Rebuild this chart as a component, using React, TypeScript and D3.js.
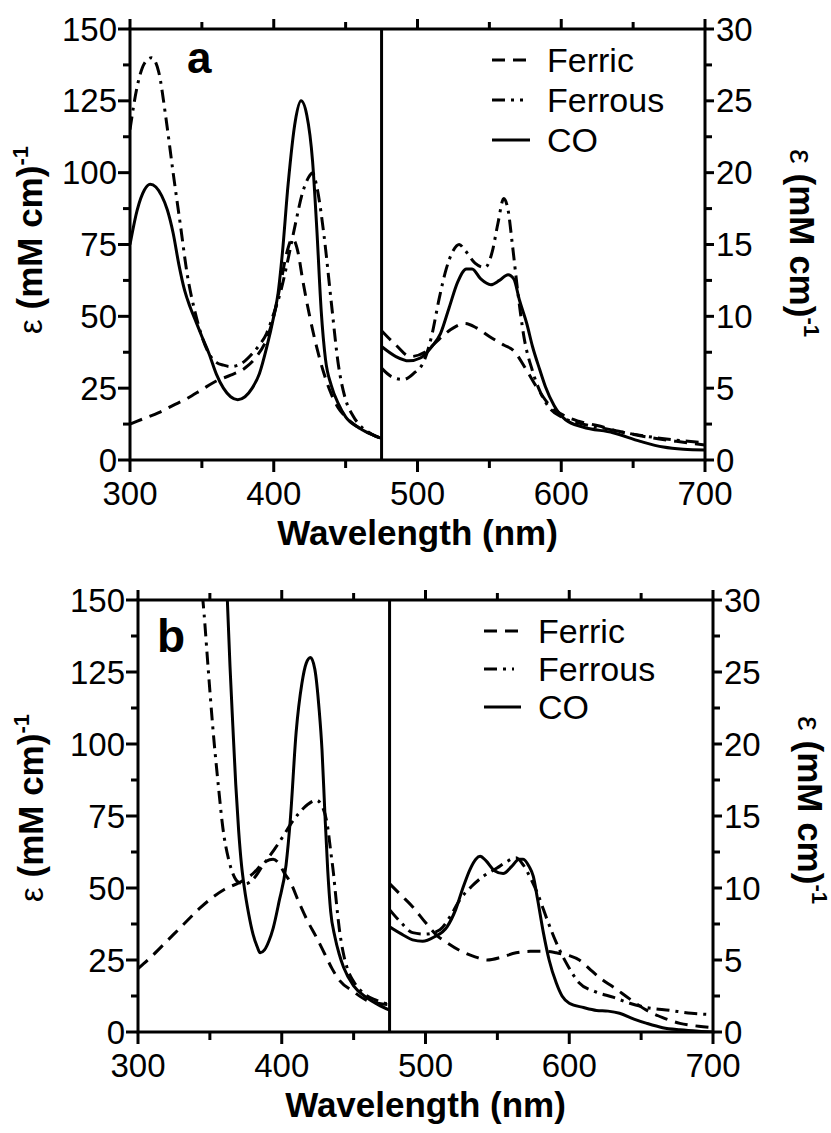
import React from 'react';
import * as d3 from 'd3';

type Pt = [number, number];

// ---- panel a : Soret region (left axis, 0-150) ----
const ferricA_uv: Pt[] = [[300,12.5],[310,14.5],[320,16.5],[330,19],[340,21.5],[350,24.5],[360,27.5],[370,29.5],[380,32],[388,36],[395,42],[400,50],[405,62],[409,72],[413,77],[417,72],[420,63],[425,50],[430,39],[435,30],[440,23],[445,18],[450,15],[460,11],[470,8.5],[475,7.5]];
const ferrousA_uv: Pt[] = [[300,115],[305,130],[310,138],[315,140],[320,135],[325,119],[330,100],[335,82],[340,64],[345,52],[350,43],[355,37],[360,34],[365,33],[370,32.5],[375,33],[380,34.5],[385,37],[390,40],[395,44],[400,51],[405,59],[410,70],[415,82],[420,93],[425,99],[427,100],[430,95],[435,78],[440,55],[445,33],[450,21],[455,15.5],[460,12],[465,10],[470,8.5],[475,7.5]];
const coA_uv: Pt[] = [[300,75],[305,87],[310,94],[314,96],[318,95],[322,92],[326,87],[330,79],[334,68],[338,59],[342,53],[346,48],[350,43],[355,37],[360,30],[365,25],[370,22],[375,21],[380,22],[385,25],[390,30],[395,39],[400,50],[403,58],[406,72],[410,96],[415,118],[419,125],[423,120],[427,104],[430,80],[433,52],[436,35],[440,26],[445,19.5],[450,15],[460,11],[470,8.5],[475,7.5]];

// ---- panel a : visible region (right axis, 0-30) ----
const ferricA_vis: Pt[] = [[475,9],[485,8],[495,7.2],[505,7.5],[515,8.4],[525,9.2],[533,9.5],[541,9.2],[550,8.6],[560,8],[567,7.6],[575,6.4],[584,4.9],[592,3.8],[600,3.2],[612,2.7],[625,2.4],[640,2],[660,1.6],[680,1.3],[700,1.05]];
const ferrousA_vis: Pt[] = [[475,6.4],[482,5.8],[490,5.6],[497,6],[505,7],[510,8.7],[515,11.2],[520,13.3],[525,14.6],[529,15],[533,14.6],[540,13.7],[547,13.4],[552,14.5],[556,16.5],[560,18.2],[563,17.4],[566,15],[570,11.5],[574,8.6],[580,6.2],[586,4.6],[592,3.6],[600,3],[615,2.5],[630,2.2],[650,1.8],[670,1.5],[700,1.2]];
const coA_vis: Pt[] = [[475,7.9],[485,7.2],[494,6.9],[502,7.1],[510,7.9],[516,8.8],[522,10.6],[528,12.4],[534,13.3],[538,13.3],[544,12.6],[551,12.2],[557,12.5],[563,12.9],[567,12.6],[571,11.1],[576,9.5],[580,7.9],[585,6.3],[589,5.1],[595,3.8],[603,2.8],[615,2.3],[636,1.9],[655,1.3],[671,0.9],[685,0.75],[700,0.7]];

// ---- panel b : Soret region ----
const ferricB_uv: Pt[] = [[300,22],[310,26.5],[320,31.5],[330,36.5],[343,43],[350,46],[360,49.5],[371,52],[380,55],[388,59],[394,60],[398,58.5],[402,55],[406,52],[412,45],[418,38.5],[424,33],[430,27],[435,22],[440,18],[450,14],[459,11],[467,10],[475,9.5]];
const ferrousB_uv: Pt[] = [[338,200],[343,162],[346,145],[349,125],[352,106],[356,85],[359,71],[363,60],[366,55],[370,52],[375,51.5],[380,53],[387,58],[395,63.5],[401,68],[406,72],[412,76],[418,79],[424,80.5],[428,78.5],[432,71],[434,63],[436,55],[438,45],[440,36],[443,27],[446,21.5],[450,17.5],[458,13],[466,11],[475,9.5]];
const coB_uv: Pt[] = [[356,220],[360,178],[362,152],[364,127],[366,106],[368,86],[370,70],[372,58],[374,50],[377,41],[380,34],[383,29.5],[385,27.5],[388,28.5],[391,31.5],[394,36],[398,45],[403,58],[406,74],[410,104],[414,121],[417,128],[420,130],[423,126],[426,112],[428,98],[430,76],[432,56],[434,42],[437,33],[440,27],[443,22.5],[450,16],[459,12],[467,9.5],[475,7.6]];

// ---- panel b : visible region ----
const ferricB_vis: Pt[] = [[475,10.3],[483,9.5],[491,8.7],[500,7.6],[508,6.7],[515,6.2],[525,5.6],[535,5.2],[543,5],[553,5.2],[563,5.5],[573,5.6],[583,5.6],[591,5.5],[600,5.3],[607,5],[615,4.3],[622,3.7],[631,3.1],[642,2.3],[654,1.5],[665,1],[677,0.6],[690,0.4],[700,0.3]];
const ferrousB_vis: Pt[] = [[475,8.5],[483,7.6],[491,6.9],[500,6.8],[510,7.1],[517,8],[524,9.2],[532,10.1],[540,10.8],[550,11.4],[556,11.8],[563,12.1],[568,11.6],[573,10.7],[578,9.6],[585,7.7],[591,6.2],[599,4.6],[607,3.4],[618,2.8],[631,2.4],[642,2],[654,1.7],[670,1.5],[685,1.3],[700,1.2]];
const coB_vis: Pt[] = [[475,7.3],[485,6.7],[491,6.4],[498,6.3],[506,6.6],[515,7.3],[521,8.5],[526,10],[531,11.3],[535,12],[538,12.2],[542,11.9],[548,11.2],[554,11],[560,11.5],[565,12],[568,12],[572,11.5],[575,10.8],[578,9.2],[582,6.9],[586,5],[591,3.4],[595,2.5],[600,2],[610,1.7],[619,1.5],[627,1.45],[635,1.3],[645,0.9],[654,0.6],[665,0.3],[677,0.15],[690,0.05],[700,0]];

const xTicks = [300, 350, 400, 450, 500, 550, 600, 650, 700];
const leftTicks = [0, 12.5, 25, 37.5, 50, 62.5, 75, 87.5, 100, 112.5, 125, 137.5, 150];
const rightTicks = [0, 2.5, 5, 7.5, 10, 12.5, 15, 17.5, 20, 22.5, 25, 27.5, 30];
const seriesNames = ['Ferric', 'Ferrous', 'CO'];
const dashes: Record<string, string | undefined> = { Ferric: '13,8', Ferrous: '13,6,3,6', CO: undefined };

const FONT = '"Liberation Sans", Arial, Helvetica, sans-serif';

const panels = [
  {
    id: 'a', left: 130, right: 705, top: 29, bottom: 460,
    uv: { Ferric: ferricA_uv, Ferrous: ferrousA_uv, CO: coA_uv },
    vis: { Ferric: ferricA_vis, Ferrous: ferrousA_vis, CO: coA_vis },
    tag: { x: 187, y: 73, size: 44 },
    legend: { x1: 492, x2: 530, tx: 547, y0: 60, dy: 40 },
    ylab: { lx: 42, ly: 240, rx: 790, ry: 243 },
  },
  {
    id: 'b', left: 138, right: 713, top: 600, bottom: 1032,
    uv: { Ferric: ferricB_uv, Ferrous: ferrousB_uv, CO: coB_uv },
    vis: { Ferric: ferricB_vis, Ferrous: ferrousB_vis, CO: coB_vis },
    tag: { x: 157, y: 652, size: 46 },
    legend: { x1: 484, x2: 521, tx: 538, y0: 631, dy: 38 },
    ylab: { lx: 43, ly: 808, rx: 798, ry: 810 },
  },
];

function YLabel({ x, y, rot }: { x: number; y: number; rot: number }) {
  return (
    <text transform={`translate(${x},${y}) rotate(${rot})`} textAnchor="middle" fontFamily={FONT}>
      <tspan fontSize={33}>ε</tspan>
      <tspan fontSize={35} fontWeight="bold"> (mM cm)</tspan>
      <tspan fontSize={22} fontWeight="bold" dy={-14}>-1</tspan>
    </text>
  );
}

function Panel({ p }: { p: typeof panels[number] }) {
  const x = d3.scaleLinear().domain([300, 700]).range([p.left, p.right]);
  const yL = d3.scaleLinear().domain([0, 150]).range([p.bottom, p.top]);
  const yR = d3.scaleLinear().domain([0, 30]).range([p.bottom, p.top]);
  const xd = x(475);
  const lineL = d3.line<Pt>().x(d => x(d[0])).y(d => yL(d[1])).curve(d3.curveMonotoneX);
  const lineR = d3.line<Pt>().x(d => x(d[0])).y(d => yR(d[1])).curve(d3.curveMonotoneX);
  const cu = `clip-uv-${p.id}`;
  const cv = `clip-vis-${p.id}`;

  return (
    <g>
      <defs>
        <clipPath id={cu}><rect x={p.left} y={p.top} width={xd - p.left} height={p.bottom - p.top} /></clipPath>
        <clipPath id={cv}><rect x={xd} y={p.top} width={p.right - xd} height={p.bottom - p.top} /></clipPath>
      </defs>

      {seriesNames.map(s => (
        <g key={s} fill="none" stroke="#000" strokeWidth={3} strokeDasharray={dashes[s]}>
          <path d={lineL((p.uv as any)[s]) || ''} clipPath={`url(#${cu})`} />
          <path d={lineR((p.vis as any)[s]) || ''} clipPath={`url(#${cv})`} />
        </g>
      ))}

      {/* frame + divider */}
      <g stroke="#000" strokeWidth={3} fill="none">
        <rect x={p.left} y={p.top} width={p.right - p.left} height={p.bottom - p.top} />
        <line x1={xd} x2={xd} y1={p.top} y2={p.bottom} />
      </g>

      {/* x ticks top & bottom */}
      <g stroke="#000" strokeWidth={3}>
        {xTicks.map(t => {
          const major = t % 100 === 0;
          return (
            <g key={t}>
              <line x1={x(t)} x2={x(t)} y1={p.bottom} y2={p.bottom + (major ? 12 : 8)} />
              <line x1={x(t)} x2={x(t)} y1={p.top} y2={p.top - (major ? 10 : 7)} />
            </g>
          );
        })}
        {leftTicks.map(t => (
          <line key={t} x1={p.left} x2={p.left - (t % 25 === 0 ? 12 : 7)} y1={yL(t)} y2={yL(t)} />
        ))}
        {rightTicks.map(t => (
          <line key={t} x1={p.right} x2={p.right + (t % 5 === 0 ? 9 : 7)} y1={yR(t)} y2={yR(t)} />
        ))}
      </g>

      <g fontFamily={FONT} fontSize={33} fill="#000">
        {xTicks.filter(t => t % 100 === 0).map(t => (
          <text key={t} x={x(t)} y={p.bottom + 45} textAnchor="middle">{t}</text>
        ))}
        {leftTicks.filter(t => t % 25 === 0).map(t => (
          <text key={t} x={p.left - 13} y={yL(t) + 11.5} textAnchor="end">{t}</text>
        ))}
        {rightTicks.filter(t => t % 5 === 0).map(t => (
          <text key={t} x={p.right + 11} y={yR(t) + 11.5} textAnchor="start">{t}</text>
        ))}
      </g>

      <text x={(p.left + p.right) / 2} y={p.bottom + 85} textAnchor="middle" fontFamily={FONT}
        fontSize={35} fontWeight="bold">Wavelength (nm)</text>

      <YLabel x={p.ylab.lx} y={p.ylab.ly} rot={-90} />
      <YLabel x={p.ylab.rx} y={p.ylab.ry} rot={90} />

      <text x={p.tag.x} y={p.tag.y} fontFamily={FONT} fontSize={p.tag.size} fontWeight="bold">{p.id}</text>

      {seriesNames.map((s, i) => (
        <g key={s}>
          <line x1={p.legend.x1} x2={s === 'Ferrous' ? p.legend.x2 - 7 : p.legend.x2}
            y1={p.legend.y0 + i * p.legend.dy} y2={p.legend.y0 + i * p.legend.dy}
            stroke="#000" strokeWidth={3} strokeDasharray={dashes[s]} />
          <text x={p.legend.tx} y={p.legend.y0 + i * p.legend.dy + 12} fontFamily={FONT} fontSize={34}>{s}</text>
        </g>
      ))}
    </g>
  );
}

export default function App() {
  return (
    <svg width={831} height={1133} viewBox="0 0 831 1133"
      style={{ position: 'absolute', left: 0, top: 0, background: '#fff', display: 'block' }}>
      <rect width={831} height={1133} fill="#fff" />
      {panels.map(p => <Panel key={p.id} p={p} />)}
    </svg>
  );
}
